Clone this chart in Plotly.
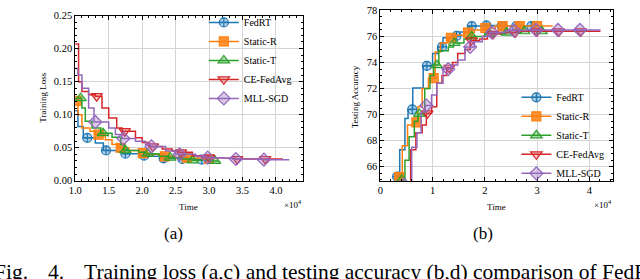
import plotly.graph_objects as go

W, H = 640, 279

# ---------------- data (time in units of 1e4) ----------------
methods = ["FedRT", "Static-R", "Static-T", "CE-FedAvg", "MLL-SGD"]

# (a) training loss, step curves
loss_fedrt_t = [1.00, 1.04, 1.12, 1.30, 1.42, 1.62, 1.72, 1.95, 2.10, 2.28, 2.55, 2.80, 3.00]
loss_fedrt_v = [0.106, 0.082, 0.065, 0.057, 0.046, 0.044, 0.041, 0.038, 0.037, 0.034, 0.033, 0.032, 0.032]
loss_staticr_t = [1.00, 1.04, 1.10, 1.22, 1.30, 1.45, 1.55, 1.65, 1.80, 1.95, 2.10, 2.30, 2.50, 2.70, 2.90, 3.05]
loss_staticr_v = [0.121, 0.100, 0.080, 0.075, 0.070, 0.062, 0.055, 0.050, 0.046, 0.042, 0.040, 0.037, 0.035, 0.034, 0.033, 0.032]
loss_statict_t = [1.00, 1.10, 1.15, 1.25, 1.38, 1.55, 1.68, 1.73, 1.95, 2.05, 2.25, 2.40, 2.60, 2.75, 3.05, 3.15]
loss_statict_v = [0.125, 0.110, 0.090, 0.080, 0.072, 0.066, 0.055, 0.046, 0.043, 0.041, 0.037, 0.035, 0.033, 0.031, 0.030, 0.030]
loss_cefedavg_t = [1.00, 1.05, 1.10, 1.20, 1.30, 1.40, 1.50, 1.62, 1.70, 1.90, 2.00, 2.10, 2.30, 2.45, 2.55, 2.75, 2.90, 3.00, 3.20, 3.40, 4.10]
loss_cefedavg_v = [0.207, 0.150, 0.135, 0.130, 0.128, 0.110, 0.095, 0.080, 0.075, 0.065, 0.058, 0.052, 0.048, 0.045, 0.043, 0.038, 0.036, 0.035, 0.034, 0.033, 0.033]
loss_mllsgd_t = [1.00, 1.04, 1.10, 1.20, 1.28, 1.50, 1.60, 1.70, 1.90, 2.05, 2.12, 2.35, 2.50, 2.80, 2.95, 3.20, 3.35, 3.80, 4.20]
loss_mllsgd_v = [0.170, 0.160, 0.140, 0.110, 0.089, 0.080, 0.070, 0.064, 0.060, 0.055, 0.052, 0.045, 0.040, 0.037, 0.035, 0.034, 0.033, 0.032, 0.032]

# (b) testing accuracy, step curves
acc_fedrt_t = [0.30, 0.37, 0.47, 0.53, 0.62, 0.82, 1.00, 1.10, 1.20, 1.40, 1.52, 1.70, 2.00, 2.30, 2.95]
acc_fedrt_v = [65.24, 67.3, 69.7, 70.4, 72.05, 73.75, 74.7, 75.2, 75.9, 76.05, 76.35, 76.8, 76.85, 76.8, 76.8]
acc_staticr_t = [0.34, 0.42, 0.52, 0.62, 0.72, 0.80, 0.92, 1.05, 1.15, 1.30, 1.45, 1.60, 1.80, 2.00, 2.20, 3.30]
acc_staticr_v = [65.2, 67.6, 69.2, 69.4, 70.6, 72.0, 72.8, 74.8, 75.5, 75.9, 76.1, 76.3, 76.5, 76.65, 76.8, 76.8]
acc_statict_t = [0.40, 0.47, 0.55, 0.65, 0.72, 0.85, 0.95, 1.02, 1.12, 1.30, 1.40, 1.60, 1.74, 2.00, 2.40, 2.70, 3.20]
acc_statict_v = [65.0, 66.5, 68.3, 69.5, 70.05, 72.0, 73.0, 73.8, 74.9, 75.2, 75.5, 75.8, 76.0, 76.2, 76.3, 76.4, 76.4]
acc_cefedavg_t = [0.46, 0.58, 0.68, 0.80, 0.88, 0.98, 1.08, 1.18, 1.27, 1.38, 1.48, 1.62, 1.72, 1.90, 2.05, 2.30, 2.60, 4.20]
acc_cefedavg_v = [64.6, 67.3, 68.6, 69.2, 70.1, 70.6, 72.4, 73.0, 73.6, 74.0, 74.7, 75.0, 75.7, 75.8, 76.2, 76.3, 76.4, 76.45]
acc_mllsgd_t = [0.45, 0.60, 0.70, 0.78, 0.86, 0.98, 1.08, 1.20, 1.35, 1.48, 1.62, 1.80, 1.95, 2.10, 2.40, 2.80, 4.20]
acc_mllsgd_v = [64.6, 67.5, 68.6, 70.2, 70.7, 71.5, 72.4, 73.5, 73.8, 74.2, 75.2, 75.6, 76.0, 76.3, 76.45, 76.5, 76.55]

# times at which markers are drawn (markevery)
mark_fedrt = [0.32, 0.61, 0.89, 1.18, 1.46, 1.75, 2.03, 2.32, 2.60, 2.89]
mark_staticr = [0.36, 0.69, 1.02, 1.35, 1.68, 2.01, 2.34, 2.67, 3.00]
mark_statict = [0.41, 0.745, 1.08, 1.415, 1.75, 2.085, 2.42, 2.755, 3.09]
mark_cefedavg = [0.48, 0.90, 1.32, 1.74, 2.16, 2.58, 3.00, 3.42, 3.84]
mark_mllsgd = [0.46, 0.88, 1.30, 1.72, 2.14, 2.56, 2.98, 3.40, 3.82]

loss_x_ticks = [1.0, 1.5, 2.0, 2.5, 3.0, 3.5, 4.0]
loss_y_ticks = [0.00, 0.05, 0.10, 0.15, 0.20, 0.25]
acc_x_ticks = [0, 1, 2, 3, 4]
acc_y_ticks = [66, 68, 70, 72, 74, 76, 78]

# ---------------- styles ----------------
colors = ["#1f77b4", "#ff7f0e", "#2ca02c", "#d62728", "#9467bd"]
fills = ["rgba(31,119,180,0.35)", "rgba(255,127,14,0.85)", "rgba(44,160,44,0.35)",
         "rgba(214,39,40,0.25)", "rgba(148,103,189,0.35)"]
symbols = ["circle-cross", "square", "triangle-up", "triangle-down", "diamond"]
msizes = [9, 9, 10, 10, 10]
FONT = "Liberation Serif, serif"

loss_series = [(loss_fedrt_t, loss_fedrt_v), (loss_staticr_t, loss_staticr_v),
               (loss_statict_t, loss_statict_v), (loss_cefedavg_t, loss_cefedavg_v),
               (loss_mllsgd_t, loss_mllsgd_v)]
acc_series = [(acc_fedrt_t, acc_fedrt_v), (acc_staticr_t, acc_staticr_v),
              (acc_statict_t, acc_statict_v), (acc_cefedavg_t, acc_cefedavg_v),
              (acc_mllsgd_t, acc_mllsgd_v)]
marks = [mark_fedrt, mark_staticr, mark_statict, mark_cefedavg, mark_mllsgd]


def step_at(ts, vs, t):
    if t < ts[0] or t > ts[-1]:
        return None
    val = vs[0]
    for tt, vv in zip(ts, vs):
        if tt <= t:
            val = vv
    return val


fig = go.Figure()


def add_panel(series, xa, ya, legend_name):
    for i, (ts, vs) in enumerate(series):
        fig.add_trace(go.Scatter(x=ts, y=vs, mode="lines", line=dict(color=colors[i], width=1.5, shape="hv"),
                                 xaxis=xa, yaxis=ya, showlegend=False, hoverinfo="skip"))
        mx, my = [], []
        for t in marks[i]:
            v = step_at(ts, vs, t)
            if v is not None:
                mx.append(t)
                my.append(v)
        fig.add_trace(go.Scatter(x=mx, y=my, mode="markers",
                                 marker=dict(symbol=symbols[i], size=msizes[i], color=fills[i],
                                             line=dict(color=colors[i], width=1.2)),
                                 xaxis=xa, yaxis=ya, showlegend=False, hoverinfo="skip"))
    for i in range(len(series)):
        fig.add_trace(go.Scatter(x=[None], y=[None], mode="lines+markers", name=methods[i],
                                 line=dict(color=colors[i], width=1.5),
                                 marker=dict(symbol=symbols[i], size=msizes[i], color=fills[i],
                                             line=dict(color=colors[i], width=1.2)),
                                 xaxis=xa, yaxis=ya, legend=legend_name, showlegend=True))


add_panel(loss_series, "x", "y", "legend")
add_panel(acc_series, "x2", "y2", "legend2")


def px_x(p):
    return p / W


def px_y(p):
    return 1 - p / H


axis_common = dict(showline=True, linecolor="black", linewidth=1, mirror="ticks", ticks="inside",
                   ticklen=4, tickcolor="black", showgrid=True, gridcolor="#d4d4d4", gridwidth=1,
                   zeroline=False, tickfont=dict(family=FONT, size=10.5, color="black"))

leg_common = dict(xanchor="left", yanchor="top", bgcolor="rgba(0,0,0,0)",
                  font=dict(family=FONT, size=10, color="black"), itemwidth=30, tracegroupgap=0)

fig.update_layout(
    width=W, height=H, margin=dict(l=0, r=0, t=0, b=0),
    paper_bgcolor="white", plot_bgcolor="white",
    font=dict(family=FONT, color="black"),
    xaxis=dict(axis_common, domain=[px_x(69), px_x(299)], range=[1.0, 4.4], tickmode="array",
               tickvals=loss_x_ticks, ticktext=[f"{v:.1f}" for v in loss_x_ticks],
               minor=dict(dtick=0.1, ticks="inside", ticklen=2, tickcolor="black", showgrid=False), anchor="y"),
    yaxis=dict(axis_common, domain=[px_y(183), px_y(11)], range=[0, 0.25], tickmode="array",
               tickvals=loss_y_ticks, ticktext=[f"{v:.2f}" for v in loss_y_ticks],
               minor=dict(dtick=0.01, ticks="inside", ticklen=2, tickcolor="black", showgrid=False), anchor="x"),
    xaxis2=dict(axis_common, domain=[px_x(377.5), px_x(613)], range=[0, 4.46], tickmode="array",
                tickvals=acc_x_ticks, ticktext=[str(v) for v in acc_x_ticks],
                minor=dict(dtick=0.2, ticks="inside", ticklen=2, tickcolor="black", showgrid=False), anchor="y2"),
    yaxis2=dict(axis_common, domain=[px_y(183), px_y(4.7)], range=[64.92, 78.07], tickmode="array",
                tickvals=acc_y_ticks, ticktext=[str(v) for v in acc_y_ticks],
                minor=dict(dtick=0.5, ticks="inside", ticklen=2, tickcolor="black", showgrid=False), anchor="x2"),
    legend=dict(leg_common, x=px_x(199), y=px_y(3)),
    legend2=dict(leg_common, x=px_x(515), y=px_y(81)),
)

ann = [
    dict(text="Training Loss", x=px_x(37), y=px_y(97), textangle=-90, font=dict(size=9)),
    dict(text="Testing Accuracy", x=px_x(352), y=px_y(96), textangle=-90, font=dict(size=9)),
    dict(text="Time", x=px_x(184), y=px_y(210), font=dict(size=9)),
    dict(text="Time", x=px_x(495), y=px_y(210), font=dict(size=9)),
    dict(text="×10<sup>4</sup>", x=px_x(300), y=px_y(207), xanchor="right", font=dict(size=9)),
    dict(text="×10<sup>4</sup>", x=px_x(614), y=px_y(207), xanchor="right", font=dict(size=9)),
    dict(text="(a)", x=px_x(168), y=px_y(238), font=dict(size=17)),
    dict(text="(b)", x=px_x(481), y=px_y(238), font=dict(size=17)),
    dict(text="Fig.", x=px_x(23), y=px_y(278), xanchor="right", font=dict(size=21.5)),
    dict(text="4.", x=px_x(39), y=px_y(278), xanchor="left", font=dict(size=21.5)),
    dict(text="Training loss (a,c) and testing accuracy (b,d) comparison of FedRT", x=px_x(76),
         y=px_y(278), xanchor="left", font=dict(size=21.5)),
]
for a in ann:
    a.update(xref="paper", yref="paper", showarrow=False)
    a.setdefault("xanchor", "center")
    a["yanchor"] = "middle"
    a["font"] = dict(family=FONT, color="black", size=a["font"]["size"])
fig.update_layout(annotations=ann)

fig.write_html("out.html", config={"displayModeBar": False},
               post_script="document.body.style.margin='0';document.body.style.padding='0';")
